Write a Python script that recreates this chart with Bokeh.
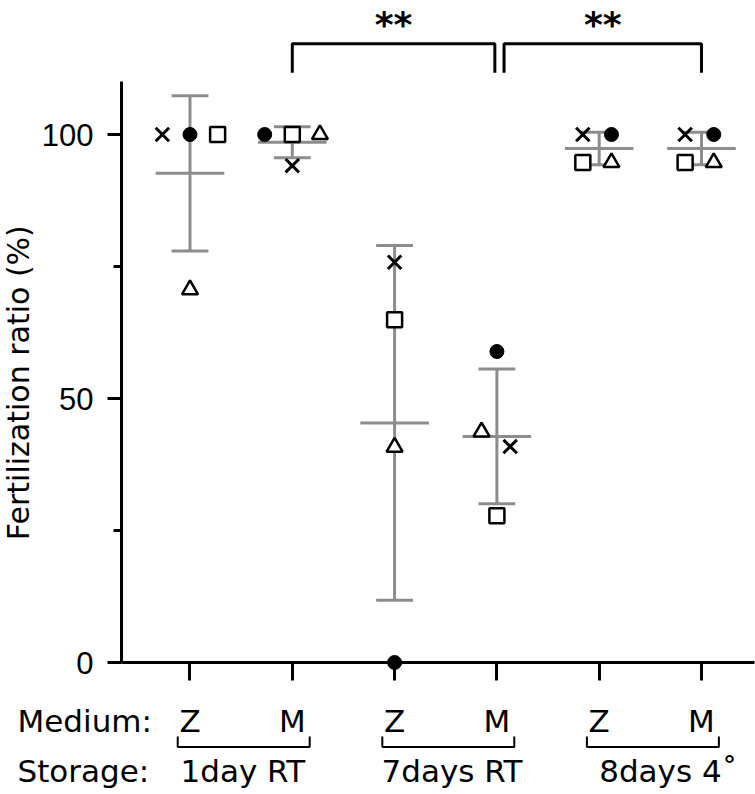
import numpy as np
from bokeh.plotting import figure
from bokeh.models import Range1d, LinearAxis, FixedTicker, Label
from bokeh.embed import file_html
from bokeh.resources import INLINE

# ---------------- data ----------------
groups = [1, 2, 3, 4, 5, 6]
medium = ["Z", "M", "Z", "M", "Z", "M"]
storage = ["1day RT", "7days RT", "8days 4˚"]
medium_title = "Medium:"
storage_title = "Storage:"
y_title = "Fertilization ratio (%)"

# fertilization ratio (%) of each replicate, per group
rep_circle = [100, 100, 0, 58.9, 100, 100]
rep_x = [100, 94.1, 75.8, 40.9, 100, 100]
rep_square = [100, 100, 64.9, 27.8, 94.7, 94.7]
rep_triangle = [70.6, 100, 40.8, 43.7, 94.7, 94.7]

y_ticks = [0, 50, 100]
y_minor = [25, 75]
sig_pairs = [(2, 4), (4, 6)]
sig_text = ["**", "**"]

# horizontal spread of overlapping points (category units)
jit_circle = [0, -0.27, 0, 0, 0.12, 0.12]
jit_x = [-0.27, 0, 0, 0.13, -0.16, -0.16]
jit_square = [0.27, 0, 0, 0, -0.16, -0.16]
jit_triangle = [0, 0.27, 0, -0.15, 0.12, 0.12]

# ---------------- derived stats ----------------
allv = np.array([rep_circle, rep_x, rep_square, rep_triangle], dtype=float)
mean = allv.mean(axis=0)
sd = allv.std(axis=0, ddof=1)
g = np.array(groups, dtype=float)

GRAY = "#8c8c8c"
FONT = "DejaVu Sans"
X0 = 0.3304  # where the y axis stands

p = figure(width=755, height=794, output_backend="svg", toolbar_location=None,
           x_range=Range1d(-0.8524, 6.528), y_range=Range1d(-25.0, 125.38),
           x_axis_type=None, y_axis_type=None,
           min_border_left=0, min_border_right=0, min_border_top=0, min_border_bottom=0)
p.outline_line_color = None
p.background_fill_color = "white"
p.border_fill_color = "white"

# y axis (drawn inside the frame at x = X0)
yax = LinearAxis(bounds=(0, 110), fixed_location=X0,
                 ticker=FixedTicker(ticks=y_ticks, minor_ticks=y_minor))
yax.axis_line_width = 3
yax.major_tick_line_width = 3
yax.minor_tick_line_width = 3
yax.major_tick_out = 14
yax.major_tick_in = 0
yax.minor_tick_out = 8
yax.minor_tick_in = 0
yax.major_label_text_font = "Liberation Sans"
yax.major_label_text_font_size = "31px"
yax.major_label_text_color = "black"
yax.major_label_standoff = 14
p.add_layout(yax, "left")

# x axis at y = 0, tick labels = medium
xax = LinearAxis(bounds=(X0, 6.52), fixed_location=0,
                 ticker=FixedTicker(ticks=groups, minor_ticks=[]),
                 major_label_overrides={gi: m for gi, m in zip(groups, medium)})
xax.axis_line_width = 3
xax.major_tick_line_width = 3
xax.major_tick_out = 18
xax.major_tick_in = 0
xax.minor_tick_out = 0
xax.minor_tick_in = 0
xax.major_label_text_font = FONT
xax.major_label_text_font_size = "31px"
xax.major_label_text_color = "black"
xax.major_label_standoff = 22
p.add_layout(xax, "below")

# error bars (mean ± SD)
p.segment(x0=g, y0=mean - sd, x1=g, y1=mean + sd, line_color=GRAY, line_width=3)
p.segment(x0=g - 0.18, y0=mean + sd, x1=g + 0.18, y1=mean + sd, line_color=GRAY, line_width=3)
p.segment(x0=g - 0.18, y0=mean - sd, x1=g + 0.18, y1=mean - sd, line_color=GRAY, line_width=3)
p.segment(x0=g - 0.335, y0=mean, x1=g + 0.335, y1=mean, line_color=GRAY, line_width=3)

# replicate points
p.scatter(g + np.array(jit_circle), rep_circle, marker="circle", size=14,
          fill_color="black", line_color="black", line_width=1)
p.scatter(g + np.array(jit_x), rep_x, marker="x", size=19,
          line_color="black", line_width=3)
p.scatter(g + np.array(jit_square), rep_square, marker="square", size=15,
          fill_color="white", line_color="black", line_width=2.5)
p.scatter(g + np.array(jit_triangle), rep_triangle, marker="triangle", size=16,
          fill_color="white", line_color="black", line_width=2.5)

# significance brackets
xs, ys = [], []
for i, (a, b) in enumerate(sig_pairs):
    a2 = a + (0.07 if i > 0 else 0)
    b2 = b - (0.02 if i == 0 else 0)
    xs.append([a2, a2, b2, b2])
    ys.append([111.7, 117.2, 117.2, 111.7])
    p.add_layout(Label(x=(a2 + b2) / 2, y=120.8, text=sig_text[i], text_align="center",
                       text_baseline="middle", text_font=FONT, text_font_style="bold",
                       text_font_size="36px", text_color="black"))
p.multi_line(xs, ys, line_color="black", line_width=3)

# bottom brackets joining the two media of one storage condition
bx, by = [], []
for k in range(3):
    g1, g2 = groups[2 * k], groups[2 * k + 1]
    bx.append([g1 - 0.12, g1 - 0.12, g2 + 0.17, g2 + 0.17])
    by.append([-14.0, -16.0, -16.0, -14.0])
p.multi_line(bx, by, line_color="black", line_width=2)

st_off = [-0.093, -0.128, 0.0]
for k in range(3):
    p.add_layout(Label(x=groups[2 * k] + st_off[k], y=-20.6, text=storage[k], text_align="left",
                       text_baseline="middle", text_font=FONT, text_font_size="31px",
                       text_color="black"))
p.add_layout(Label(x=-0.686, y=-11.08, text=medium_title, text_align="left", text_baseline="middle",
                   text_font=FONT, text_font_size="31px", text_color="black"))
p.add_layout(Label(x=-0.686, y=-20.6, text=storage_title, text_align="left", text_baseline="middle",
                   text_font=FONT, text_font_size="31px", text_color="black"))

# y axis title
p.add_layout(Label(x=-0.6765, y=53.0, text=y_title, angle=np.pi / 2, angle_units="rad",
                   text_align="center", text_baseline="middle",
                   text_font=FONT, text_font_size="30px", text_color="black"))

open("out.html", "w").write(file_html(p, INLINE))
